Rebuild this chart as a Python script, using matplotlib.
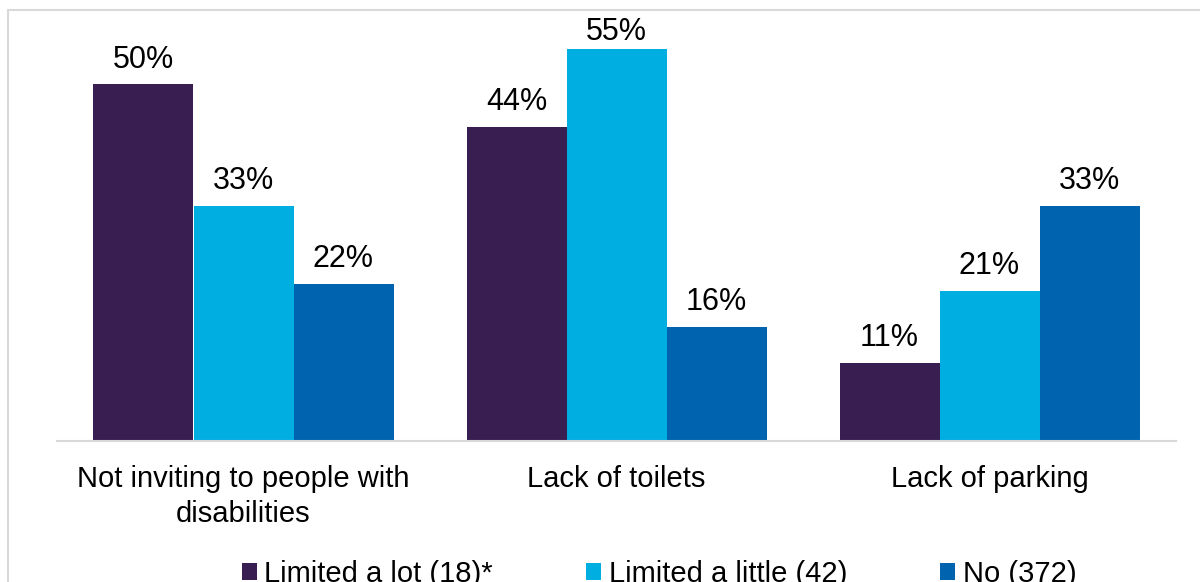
import numpy as np
import matplotlib
matplotlib.use('Agg')
import matplotlib.pyplot as plt
from matplotlib.patches import Rectangle, Patch

plt.rcParams['font.family'] = ['Liberation Sans', 'DejaVu Sans']

categories = ['Not inviting to people with\ndisabilities', 'Lack of toilets', 'Lack of parking']
series_names = ['Limited a lot (18)*', 'Limited a little (42)', 'No (372)']
lot_vals = [50, 44, 11]
little_vals = [33, 55, 21]
no_vals = [22, 16, 33]
colors = ['#381E51', '#00AEE1', '#0063AF']

W, H = 1200, 582
fig = plt.figure(figsize=(W / 100, H / 100), dpi=100)

# outer chart border (cropped at right and bottom)
fig.patches.append(Rectangle((8 / W, -0.1), 1.2, 1 - 10 / H + 0.1,
                             transform=fig.transFigure, fill=False,
                             edgecolor='#D9D9D9', linewidth=1.5))

ax = fig.add_axes([57 / W, 1 - 441 / H, (1176 - 57) / W, 428 / H])

x = np.arange(len(categories))
width = 100 / 373
for i, vals in enumerate([lot_vals, little_vals, no_vals]):
    bars = ax.bar(x + (i - 1) * width, vals, width, color=colors[i],
                  label=series_names[i])
    # tallest label gets squeezed under the chart top, as in the original
    for b, v in zip(bars, vals):
        pad = 1 if v > 52 else 7
        ax.annotate(f'{v}%', (b.get_x() + b.get_width() / 2, v),
                    xytext=(0, pad), textcoords='offset points',
                    ha='center', va='bottom', fontsize=22, color='black')

ax.set_xlim(-0.5, len(categories) - 0.5)
ax.set_ylim(0, 60)
ax.set_yticks([])
ax.set_xticks(x)
ax.set_xticklabels(categories, fontsize=21, linespacing=1.32)
ax.tick_params(axis='x', length=0, pad=17)
for s in ['top', 'right', 'left']:
    ax.spines[s].set_visible(False)
ax.spines['bottom'].set_color('#D9D9D9')
ax.spines['bottom'].set_linewidth(1.5)

handles = [Patch(facecolor=c, edgecolor='none') for c in colors]
fig.legend(handles, series_names, loc='center', ncol=3,
           bbox_to_anchor=(659 / W, 1 - 574 / H), frameon=False,
           fontsize=21, handlelength=0.52, handleheight=0.52,
           handletextpad=0.25, columnspacing=3.2)

fig.savefig('out.png', dpi=100)
